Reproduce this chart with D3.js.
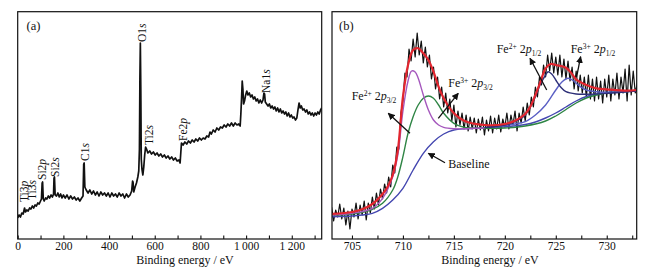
<!DOCTYPE html>
<html>
<head>
<meta charset="utf-8">
<script src="https://cdn.jsdelivr.net/npm/d3@7"></script>
<style>
  body { margin: 0; background: #fff; }
  text { font-family: "Liberation Serif", "Times New Roman", serif; fill: #111; }
</style>
</head>
<body>
<div id="graph-container"></div>
<script>
// ---- data (a) survey spectrum: [binding energy eV, intensity a.u.]
var surveySpectrum = [[0,21],[6,24],[12,22],[18,26],[24,25],[30,31],[34,27],[40,29],[46,28],[52,31],[58,30],[64,33],[70,31],[76,34],[82,33],[88,36],[94,35],[100,38],[104,40],[107,56],[109,57],[112,40],[116,38],[122,41],[128,40],[134,43],[140,41],[146,44],[152,42],[157,45],[159,61],[161,62],[164,44],[170,43],[176,46],[182,42],[188,45],[194,41],[200,44],[208,41],[216,44],[224,40],[232,43],[240,40],[248,42],[256,39],[264,41],[272,38],[280,41],[286,43],[289,75],[291,76],[294,52],[300,49],[308,46],[316,49],[324,45],[332,48],[340,44],[348,47],[356,43],[364,47],[372,44],[380,46],[388,43],[396,46],[404,42],[412,46],[420,43],[428,45],[436,42],[444,46],[452,43],[460,45],[468,41],[476,45],[484,42],[492,44],[499,48],[503,58],[505,57],[508,47],[514,52],[520,56],[526,62],[530,68],[533,90],[535,160],[537,196],[539,150],[541,80],[544,70],[548,64],[552,72],[556,84],[560,92],[564,90],[570,86],[578,88],[586,85],[594,87],[602,84],[610,86],[618,83],[626,85],[634,82],[642,84],[650,81],[658,83],[666,80],[674,82],[682,79],[690,81],[698,78],[706,79],[711,76],[714,86],[717,96],[724,94],[732,97],[740,95],[748,98],[756,96],[764,99],[772,97],[780,100],[788,98],[796,101],[804,99],[812,101],[820,100],[828,103],[836,102],[842,107],[848,105],[856,109],[864,107],[872,111],[880,109],[888,112],[896,111],[904,114],[912,112],[920,115],[928,113],[936,116],[944,113],[952,116],[960,114],[968,115],[974,113],[977,125],[980,140],[983,158],[986,150],[989,135],[993,138],[998,144],[1003,148],[1008,144],[1014,146],[1020,142],[1026,144],[1032,140],[1038,142],[1044,138],[1050,140],[1056,136],[1062,139],[1068,136],[1074,139],[1078,146],[1081,145],[1084,137],[1090,135],[1096,133],[1102,135],[1108,131],[1114,133],[1120,130],[1126,132],[1132,128],[1138,131],[1144,127],[1150,130],[1156,126],[1162,128],[1168,125],[1174,127],[1180,123],[1186,126],[1192,122],[1198,124],[1204,121],[1210,122],[1216,119],[1222,121],[1227,129],[1232,136],[1237,131],[1242,133],[1248,129],[1254,130],[1260,127],[1266,129],[1272,125],[1278,127],[1284,124],[1290,126],[1296,123],[1302,126],[1308,124],[1314,127],[1320,125],[1326,129],[1331,131]];

var surveyElements = ["Ti3", "Ti3", "Si2", "Si2", "C1", "O1", "Ti2", "Fe2", "Na1"];
var surveyOrbitals = ["p", "s", "p", "s", "s", "s", "s", "p", "s"];
var surveyLabelEnergy = [45, 81, 125, 181, 312, 561, 593, 740, 1104];
var surveyLabelLevel = [37, 39, 59, 62, 78, 197, 94, 98, 146];

// ---- data (b) Fe 2p high resolution
var feRawStart = 703, feRawStep = 0.2; // sampling grid of the measured trace
var feRaw = [32,18,29,22,35,20,31,14,28,10,30,22,36,20,34,24,38,19,36,26,42,30,46,34,50,40,55,46,62,52,74,66,92,90,126,138,166,162,190,178,200,182,206,184,198,176,192,172,184,160,172,150,162,140,152,132,146,126,140,118,134,112,128,114,126,110,124,108,122,110,121,106,120,109,122,104,119,108,123,106,121,110,124,107,120,112,126,110,124,114,128,108,126,116,132,118,136,124,142,132,152,142,162,154,174,162,184,168,186,166,182,164,184,162,180,160,178,158,172,150,168,148,164,146,162,142,164,140,160,138,162,140,158,136,160,142,164,138,160,144,166,140,162,146,170,138,174,144,168,146,156];

var fitEnvelope = [[702.94,25],[705,27],[706,29.7],[707,35],[708,45],[708.5,52.3],[709,64],[709.5,89],[710,142],[710.5,174],[711,189],[711.5,190.7],[712,185.7],[712.5,179],[713,167.3],[713.5,152.3],[714,140.7],[715,125.7],[716,118.3],[718,114],[720,115],[721,118.3],[722,125],[722.5,132.3],[723,144],[723.5,157.3],[724,170.7],[724.5,175],[725,174],[725.5,173],[726,171.3],[726.5,166.3],[727,159.7],[728,154],[729,150.7],[730,149.7],[732,148.3],[732.94,149]];
var fitBaseline = [[702.94,22.3],[705,23],[706,24],[707,25.7],[708,30.7],[709,39],[710,50.7],[711,69],[712,85.7],[713,97.3],[714,105],[715,109],[717,110.7],[720,112.3],[722,114.5],[723,117],[724,121],[725,126],[726,132],[727,138],[728,142.5],[729,145],[730,146.3],[732.94,148.3]];
var fitFe2p32 = [[702.94,24],[705,25.7],[707,30.7],[708,40.7],[709,62.3],[709.5,84],[710,128],[710.5,158],[710.85,168],[711.2,167],[711.5,160.7],[712,144],[712.5,129],[713,119],[713.5,114],[714,111.7],[715,110.3],[716,110.2],[717,110.7],[718,111]];
var fitFe3p32 = [[702.94,24],[705,25],[707,29.7],[708,35.7],[709,49],[709.5,62.3],[710,82.3],[710.5,105.7],[711,122.3],[711.5,134],[712,140.7],[712.5,143],[713,140.7],[713.5,134],[714,125.7],[715,115.7],[716,111.7],[718,110.7],[720,111],[722,113],[724,118],[725,123],[726,129.5],[727,136],[728,141],[729,144],[730,146],[732.94,148.3]];
var fitFe2p12 = [[718,111.5],[720,114],[721,117.3],[722,124],[723,142.3],[723.5,155],[724,164],[724.25,167.3],[724.6,165],[725,159],[725.5,151.7],[726,147.3],[727,145],[728,144.7],[730,145.7],[732.94,148]];
var fitFe3p12 = [[719,112],[721,115],[722,117.3],[723,124],[724,134],[725,149],[725.6,157],[726.2,160.7],[726.7,158.5],[727,155.7],[727.5,151.7],[728,149],[729,147.3],[730,146.7],[732.94,148.3]];

// annotation texts of (b): [charge, subscript], anchor [eV, level], arrow tail / head [eV, level]
var peakCharges = ["2+", "3+", "2+", "3+"];
var peakSubs = ["3/2", "3/2", "1/2", "1/2"];
var peakLabelAt = [[704.97, 139], [714.45, 151.7], [719.2, 185.7], [726.46, 185.7]];
var arrowTails = [[710.69, 105.7], [713.47, 120.7], [724.11, 149], [727.05, 162.3], [714.13, 76.3]];
var arrowHeads = [[708.56, 125.7], [715.43, 145.7], [722.47, 180.7], [727.44, 182.3], [712.49, 85.7]];
var baselineLabelAt = [714.45, 70.7];

// ---- layout
var svgWidth = 662, svgHeight = 274;
var plotTop = 11.7, plotBottom = 239;
var panelA = { left: 17.7, right: 321.7 };
var panelB = { left: 332, right: 636.7 };

var svg = d3.select("#graph-container")
  .append("svg")
  .attr("width", svgWidth)
  .attr("height", svgHeight);

var defs = svg.append("defs");
defs.append("marker")
  .attr("id", "arrow")
  .attr("viewBox", "0 0 10 10")
  .attr("refX", 9).attr("refY", 5)
  .attr("markerWidth", 7).attr("markerHeight", 7)
  .attr("markerUnits", "userSpaceOnUse")
  .attr("orient", "auto")
  .append("path")
  .attr("d", "M0,0 L10,5 L0,10 z")
  .attr("fill", "#111");

function clip(id, p) {
  defs.append("clipPath").attr("id", id)
    .append("rect")
    .attr("x", p.left).attr("y", plotTop)
    .attr("width", p.right - p.left).attr("height", plotBottom - plotTop);
}
clip("clipA", panelA);
clip("clipB", panelB);

var y = d3.scaleLinear().domain([0, 227.3]).range([plotBottom, plotTop]);

function frame(p) {
  svg.append("rect")
    .attr("x", p.left).attr("y", plotTop)
    .attr("width", p.right - p.left).attr("height", plotBottom - plotTop)
    .attr("fill", "none").attr("stroke", "#111").attr("stroke-width", 1.2);
}

function xAxis(scale, ticks, labelEvery, fmt) {
  var axis = d3.axisBottom(scale)
    .tickValues(ticks)
    .tickSizeInner(-3.5)
    .tickSizeOuter(0)
    .tickPadding(3)
    .tickFormat(function (d, i) { return i % labelEvery === 0 ? fmt(d) : ""; });
  var g = svg.append("g")
    .attr("transform", "translate(0," + plotBottom + ")")
    .call(axis);
  g.select(".domain").remove();
  g.selectAll(".tick line").attr("stroke", "#111").attr("stroke-width", 1.1);
  g.selectAll("text")
    .style("font-family", "'Liberation Serif', serif")
    .style("font-size", "11.5px")
    .attr("fill", "#111");
}

function axisTitle(x) {
  svg.append("text")
    .attr("x", x).attr("y", 263.5)
    .attr("text-anchor", "middle")
    .style("font-size", "12px")
    .text("Binding energy / eV");
}

// ================= panel (a)
var xA = d3.scaleLinear().domain([0, 1331]).range([panelA.left, panelA.right]);

svg.append("path")
  .datum(surveySpectrum)
  .attr("clip-path", "url(#clipA)")
  .attr("fill", "none")
  .attr("stroke", "#111")
  .attr("stroke-width", 1.7)
  .attr("stroke-linejoin", "round")
  .attr("d", d3.line().x(function (d) { return xA(d[0]); }).y(function (d) { return y(d[1]); }));

surveyElements.forEach(function (el, i) {
  var t = svg.append("text")
    .attr("transform", "translate(" + xA(surveyLabelEnergy[i]) + "," + y(surveyLabelLevel[i]) + ") rotate(-90)")
    .style("font-size", "11.5px");
  t.append("tspan").text(el);
  t.append("tspan").style("font-style", "italic").text(surveyOrbitals[i]);
});

frame(panelA);
xAxis(xA, d3.range(0, 1301, 100), 2, function (d) {
  return d >= 1000 ? "1\u2009" + String(d).slice(1) : String(d);
});
axisTitle(185);
svg.append("text").attr("x", 26.5).attr("y", 29.5).style("font-size", "12.5px").text("(a)");

// ================= panel (b)
var xB = d3.scaleLinear().domain([703.04, 732.94]).range([panelB.left, panelB.right]);
var lineB = d3.line()
  .x(function (d) { return xB(d[0]); })
  .y(function (d) { return y(d[1]); })
  .curve(d3.curveCatmullRom);

var gB = svg.append("g").attr("clip-path", "url(#clipB)");

gB.append("path")
  .datum(feRaw)
  .attr("fill", "none")
  .attr("stroke", "#111")
  .attr("stroke-width", 1.2)
  .attr("stroke-linejoin", "round")
  .attr("d", d3.line()
    .x(function (d, i) { return xB(feRawStart + i * feRawStep); })
    .y(function (d) { return y(d); }));

var fits = [
  { data: fitBaseline, color: "#4447b0" },
  { data: fitFe3p32, color: "#2f8545" },
  { data: fitFe2p32, color: "#a558bd" },
  { data: fitFe3p12, color: "#5a5fc4" },
  { data: fitFe2p12, color: "#2e3078" },
  { data: fitEnvelope, color: "#e2262f" }
];
fits.forEach(function (f, i) {
  gB.append("path")
    .datum(f.data)
    .attr("fill", "none")
    .attr("stroke", f.color)
    .attr("stroke-width", i === fits.length - 1 ? 2.2 : 1.4)
    .attr("d", lineB);
});

// arrows
arrowTails.forEach(function (t, i) {
  svg.append("line")
    .attr("x1", xB(t[0])).attr("y1", y(t[1]))
    .attr("x2", xB(arrowHeads[i][0])).attr("y2", y(arrowHeads[i][1]))
    .attr("stroke", "#111").attr("stroke-width", 1.3)
    .attr("marker-end", "url(#arrow)");
});

// peak labels
peakCharges.forEach(function (c, i) {
  var t = svg.append("text")
    .attr("x", xB(peakLabelAt[i][0])).attr("y", y(peakLabelAt[i][1]))
    .style("font-size", "12px");
  t.append("tspan").text("Fe");
  t.append("tspan").attr("dy", -4.5).style("font-size", "7.5px").text(c);
  t.append("tspan").attr("dy", 4.5).text(" 2");
  t.append("tspan").style("font-style", "italic").text("p");
  t.append("tspan").attr("dy", 3).style("font-size", "7.5px").text(peakSubs[i]);
});
svg.append("text")
  .attr("x", xB(baselineLabelAt[0])).attr("y", y(baselineLabelAt[1]))
  .style("font-size", "12px")
  .text("Baseline");

frame(panelB);
xAxis(xB, d3.range(705, 733, 2.5), 2, function (d) { return String(d); });
axisTitle(490);
svg.append("text").attr("x", 339).attr("y", 29.5).style("font-size", "12.5px").text("(b)");
</script>
</body>
</html>
